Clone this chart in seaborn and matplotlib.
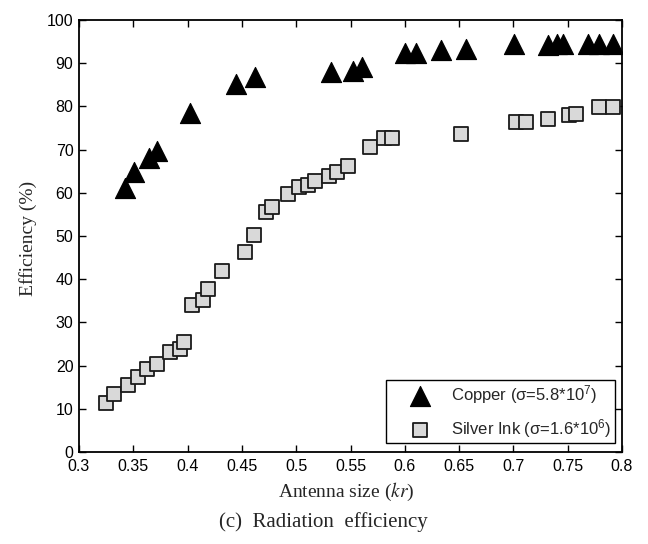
import matplotlib
matplotlib.use("Agg")
import matplotlib.pyplot as plt
import seaborn as sns
import pandas as pd

# ---- data ----
copper_kr = [0.342, 0.351, 0.364, 0.372, 0.402, 0.445, 0.462, 0.532, 0.552, 0.561,
             0.600, 0.610, 0.633, 0.656, 0.701, 0.732, 0.740, 0.746, 0.769, 0.779, 0.792]
copper_eff = [61.0, 64.9, 68.0, 69.7, 78.5, 85.3, 86.9, 87.9, 88.3, 89.2,
              92.4, 92.4, 93.1, 93.4, 94.4, 94.3, 94.4, 94.4, 94.4, 94.4, 94.4]

silver_kr = [0.325, 0.332, 0.345, 0.354, 0.363, 0.372, 0.384, 0.393, 0.397, 0.404,
             0.414, 0.419, 0.432, 0.453, 0.461, 0.472, 0.478, 0.492, 0.503, 0.511,
             0.517, 0.530, 0.538, 0.548, 0.568, 0.581, 0.588, 0.652, 0.702, 0.712,
             0.732, 0.751, 0.758, 0.779, 0.792]
silver_eff = [11.4, 13.4, 15.5, 17.4, 19.1, 20.3, 23.2, 23.9, 25.5, 34.0,
              35.3, 37.7, 42.0, 46.4, 50.2, 55.6, 56.8, 59.7, 61.3, 61.8,
              62.8, 63.9, 64.9, 66.2, 70.7, 72.6, 72.8, 73.5, 76.5, 76.3,
              77.0, 78.0, 78.2, 79.9, 79.8]

copper_label = "Copper ($\\sigma$=5.8*10$^{7}$)"
silver_label = "Silver Ink ($\\sigma$=1.6*10$^{6}$)"

x_ticks = [0.3, 0.35, 0.4, 0.45, 0.5, 0.55, 0.6, 0.65, 0.7, 0.75, 0.8]
x_tick_labels = ["0.3", "0.35", "0.4", "0.45", "0.5", "0.55", "0.6", "0.65", "0.7", "0.75", "0.8"]
y_ticks = [0, 10, 20, 30, 40, 50, 60, 70, 80, 90, 100]
y_tick_labels = [str(v) for v in y_ticks]

copper_df = pd.DataFrame({"kr": copper_kr, "eff": copper_eff})
silver_df = pd.DataFrame({"kr": silver_kr, "eff": silver_eff})

# ---- style ----
sns.set_style("ticks")
plt.rcParams["font.family"] = ["Liberation Sans", "DejaVu Sans"]
plt.rcParams["mathtext.default"] = "regular"
plt.rcParams["mathtext.fontset"] = "stix"

fig = plt.figure(figsize=(6.48, 5.44), dpi=100)
ax = fig.add_axes([79 / 648, 1 - 452 / 544, 543 / 648, 432 / 544])

sns.scatterplot(data=silver_df, x="kr", y="eff", ax=ax, marker="s", s=105,
                color="#d9d9d9", edgecolor="#1a1a1a", linewidth=1.3,
                label=silver_label, zorder=3)
sns.scatterplot(data=copper_df, x="kr", y="eff", ax=ax, marker="^", s=210,
                color="black", edgecolor="black", linewidth=0.8,
                label=copper_label, zorder=4)

ax.set_xlim(0.3, 0.8)
ax.set_ylim(0, 100)
ax.set_xticks(x_ticks)
ax.set_xticklabels(x_tick_labels)
ax.set_yticks(y_ticks)
ax.set_yticklabels(y_tick_labels)
ax.tick_params(direction="in", top=True, right=True, length=5, width=1,
               labelsize=11.5, colors="black", pad=4)
ax.tick_params(axis="x", pad=5)
for sp in ax.spines.values():
    sp.set_visible(True)
    sp.set_linewidth(1.3)
    sp.set_color("black")

ax.set_xlabel("Antenna size ($\\mathit{kr}$)", fontfamily="Liberation Serif", fontsize=14)
ax.xaxis.set_label_coords((346 - 79) / 543, -0.066)
ax.set_ylabel("Efficiency (%)", fontfamily="Liberation Serif", fontsize=14)
ax.yaxis.set_label_coords(-0.078, 0.495)

# legend: copper first
handles, labels = ax.get_legend_handles_labels()
order = [labels.index(copper_label), labels.index(silver_label)]
leg = ax.legend([handles[i] for i in order], [labels[i] for i in order],
                loc="lower right", bbox_to_anchor=(0.987, 0.021), borderaxespad=0,
                frameon=True, fancybox=False, framealpha=1, edgecolor="black",
                fontsize=12, handlelength=3.6, handletextpad=0.1, borderpad=0.2,
                labelspacing=0.65)
leg.get_frame().set_linewidth(1.0)

fig.text(323 / 648, 1 - 522 / 544, "(c)  Radiation  efficiency",
         fontfamily="Liberation Serif", fontsize=15, ha="center", va="center")

fig.savefig("out.png", dpi=100)
